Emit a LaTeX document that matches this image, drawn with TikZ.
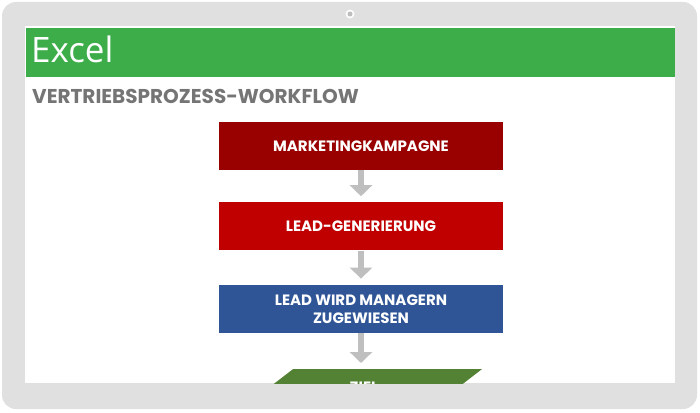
\documentclass[tikz,border=0pt]{standalone}
\usepackage{fontspec}
\setmainfont{Poppins}
\newfontfamily\excelfont{Open Sans}
\usetikzlibrary{arrows.meta, positioning, shapes.geometric}

\definecolor{framegray}{HTML}{E0E0E0}
\definecolor{excelgreen}{HTML}{3DAD4A}
\definecolor{titlegray}{HTML}{757575}
\definecolor{darkred}{HTML}{990000}
\definecolor{brightred}{HTML}{C00000}
\definecolor{stepblue}{HTML}{2F5597}
\definecolor{goalgreen}{HTML}{548235}
\definecolor{arrowgray}{HTML}{BFBFBF}

\begin{document}
\begin{tikzpicture}[
    x=1pt, y=-1pt, % pixel units, y pointing down
    stepbox/.style={draw=none, minimum width=284pt, minimum height=48pt, align=center,
        text=white, font=\bfseries\fontsize{15}{18}\selectfont}, % Style for process boxes
    goalbox/.style={trapezium, trapezium left angle=56, trapezium right angle=124,
        trapezium stretches=true, minimum width=237pt, minimum height=36pt,
        fill=goalgreen, text=white, font=\bfseries\fontsize{15}{18}\selectfont}, % Style for end shape
    flow/.style={-{Triangle[width=22pt, length=11pt]}, line width=6pt, arrowgray,
        shorten >=6pt} % Style for grey arrows
]
    \useasboundingbox (0,0) rectangle (700,412);

    % --- Device frame ---
    \fill[framegray, rounded corners=14pt] (2,2) rectangle (697,409);
    \fill[white!92!framegray] (350,14) circle (4.5pt);
    \fill[framegray!85!black] (350,14) circle (2.5pt);
    \fill[white] (25,26) rectangle (675,383);

    \begin{scope}
        \clip (25,26) rectangle (675,383);

        % Header bar
        \fill[excelgreen] (26,28) rectangle (675,77);
        \node[anchor=base west, inner sep=0pt, text=white, font=\excelfont\fontsize{35}{40}\selectfont]
            (excel) at (31,62) {Excel};

        % Title
        \node[anchor=base west, inner sep=0pt, text=titlegray, font=\bfseries\fontsize{20}{24}\selectfont]
            (title) at (32,103) {VERTRIEBSPROZESS-WORKFLOW};

        % --- Workflow steps ---
        \node[stepbox, fill=darkred] (campaign) at (361,146) {MARKETINGKAMPAGNE};
        \node[stepbox, fill=brightred, below=32pt of campaign] (leadgen) {LEAD-GENERIERUNG};
        \node[stepbox, fill=stepblue, below=34pt of leadgen] (assign) {LEAD WIRD MANAGERN\\ZUGEWIESEN};
        \node[goalbox, below=36pt of assign, xshift=3pt] (goal) {ZIEL};

        % Arrows between steps
        \draw[flow] (campaign.south) -- (leadgen.north);
        \draw[flow] (leadgen.south) -- (assign.north);
        \draw[flow] (assign.south) -- (assign.south |- goal.north);
    \end{scope}

\end{tikzpicture}
\end{document}
